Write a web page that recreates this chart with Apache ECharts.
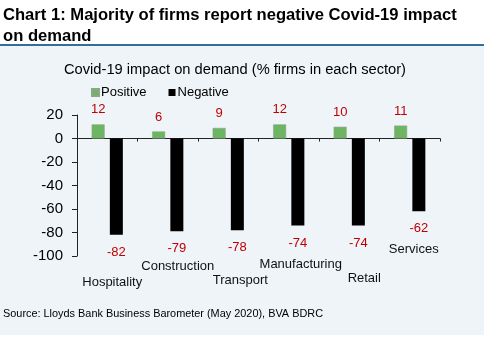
<!DOCTYPE html>
<html>
<head>
<meta charset="utf-8">
<script src="https://cdn.jsdelivr.net/npm/echarts@6/dist/echarts.min.js"></script>
<style>
  html, body { margin: 0; padding: 0; background: #ffffff; }
  #chart { width: 494px; height: 341px; }
</style>
</head>
<body>
<div id="chart"></div>
<script>
// Sectors and survey shares (% of firms)
const sectors = ['Hospitality', 'Construction', 'Transport', 'Manufacturing', 'Retail', 'Services'];
const positive = [12, 6, 9, 12, 10, 11];
const negative = [-82, -79, -78, -74, -74, -62];
const yTicks = { min: -100, max: 20, step: 20 };

// Staggered placement of the sector names below the zero line: [dx, dy] in px
const nameOffsets = [[5, 144], [10, 128], [12, 142], [12, 126], [15, 140], [4, 111]];

const FONT = '"Liberation Sans", Arial, sans-serif';
const RED = '#c00000';

const chart = echarts.init(document.getElementById('chart'), null, { renderer: 'canvas' });

const baseGraphics = [
  { type: 'rect', z: -10, shape: { x: 0, y: 46, width: 484, height: 289 }, style: { fill: '#eef4f8' }, silent: true },
  { type: 'rect', z: -9, shape: { x: 0, y: 44, width: 484, height: 2 }, style: { fill: '#336e96' }, silent: true },
  {
    type: 'text', left: 3, top: 5,
    style: {
      text: 'Chart 1: Majority of firms report negative Covid-19 impact\non demand',
      font: 'bold 16.6px ' + FONT, fill: '#000', lineHeight: 21
    }
  },
  {
    type: 'text', left: 3, top: 308,
    style: {
      text: 'Source: Lloyds Bank Business Barometer (May 2020), BVA BDRC',
      font: '10.9px ' + FONT, fill: '#000'
    }
  }
];

chart.setOption({
  animation: false,
  backgroundColor: '#ffffff',
  graphic: baseGraphics,
  title: {
    text: 'Covid-19 impact on demand (% firms in each sector)',
    left: 230, textAlign: 'center', top: 57,
    textStyle: { fontFamily: FONT, fontSize: 14.7, fontWeight: 'normal', color: '#000' }
  },
  legend: {
    left: 91, top: 86, padding: 0,
    itemWidth: 7, itemHeight: 7, itemGap: 22,
    icon: 'rect',
    textStyle: { fontFamily: FONT, fontSize: 13, color: '#000', padding: [0, 0, 0, -3] },
    data: ['Positive', 'Negative']
  },
  grid: { left: 77, right: 54, top: 115, bottom: 85, containLabel: false },
  xAxis: {
    type: 'category',
    data: sectors,
    axisLine: { onZero: true, lineStyle: { color: '#222', width: 1 } },
    axisTick: { show: true, interval: 0, length: 3, lineStyle: { color: '#222' } },
    axisLabel: { show: false }
  },
  yAxis: {
    type: 'value',
    min: yTicks.min, max: yTicks.max, interval: yTicks.step,
    splitLine: { show: false },
    axisLine: { show: true, lineStyle: { color: '#222', width: 1 } },
    axisTick: { show: true, length: 5, lineStyle: { color: '#222' } },
    axisLabel: { margin: 14, fontFamily: FONT, fontSize: 15, color: '#000' }
  },
  series: [
    {
      name: 'Positive', type: 'bar', data: positive,
      barWidth: 13, barGap: '40%',
      itemStyle: { color: '#6db463', borderColor: '#8fa58b', borderWidth: 0.6 },
      label: { show: true, position: 'top', distance: 8, color: RED, fontFamily: FONT, fontSize: 13 }
    },
    {
      name: 'Negative', type: 'bar', data: negative,
      barWidth: 13,
      itemStyle: { color: '#000000' },
      label: { show: true, position: 'bottom', distance: 11, color: RED, fontFamily: FONT, fontSize: 13 }
    }
  ]
});

// Sector names, placed relative to each category's position on the axis
const zeroY = chart.convertToPixel({ yAxisIndex: 0 }, 0);
const nameGraphics = sectors.map(function (name, i) {
  const cx = chart.convertToPixel({ xAxisIndex: 0 }, name);
  return {
    type: 'text',
    x: cx + nameOffsets[i][0],
    y: zeroY + nameOffsets[i][1],
    style: {
      text: name, font: '13px ' + FONT, fill: '#111',
      textAlign: 'center', textVerticalAlign: 'middle'
    }
  };
});
chart.setOption({ graphic: baseGraphics.concat(nameGraphics) });
</script>
</body>
</html>
